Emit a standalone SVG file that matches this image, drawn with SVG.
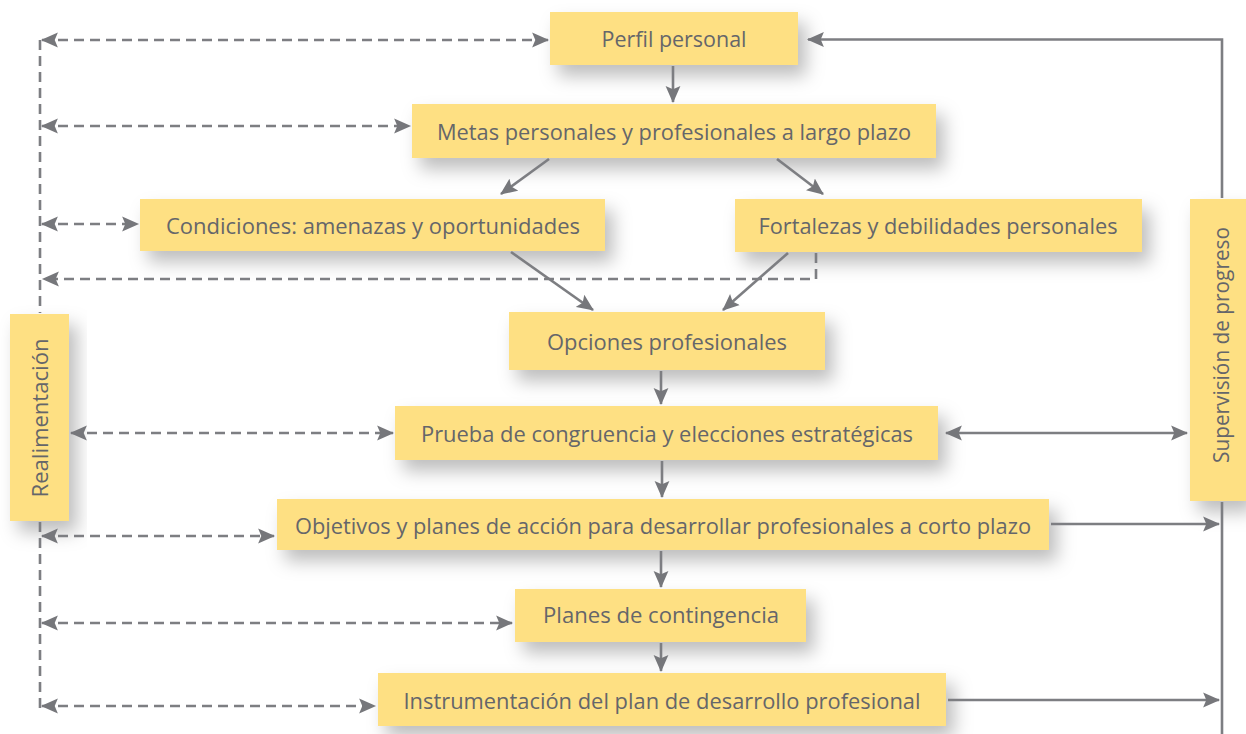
<svg xmlns="http://www.w3.org/2000/svg" width="1246" height="734" viewBox="0 0 1246 734">
<defs>
<filter id="sh" x="-20%" y="-50%" width="150%" height="250%">
<feDropShadow dx="8" dy="11" stdDeviation="9" flood-color="#000" flood-opacity="0.26"/>
</filter>
<marker id="ah" markerUnits="userSpaceOnUse" markerWidth="18" markerHeight="16" refX="15" refY="7" orient="auto-start-reverse" viewBox="0 0 17 14">
<path d="M0,0 L16,7 L0,14 L3,7 z" fill="#76777b"/>
</marker>
</defs>
<style>
.box{fill:#fee083;filter:url(#sh)}
.t{font-family:"Open Sans","Noto Sans",sans-serif;font-size:21px;fill:#65666a;text-anchor:middle}
.s{fill:none;stroke:#7d7e82;stroke-width:2.6}
.d{fill:none;stroke:#7d7e82;stroke-width:2.6;stroke-dasharray:10 6}
</style>
<rect width="1246" height="734" fill="#fff"/>
<g id="n-perfil"><rect class="box" x="550" y="12" width="248" height="53"/><text class="t" x="674" y="47" textLength="145" lengthAdjust="spacingAndGlyphs">Perfil personal</text></g>
<g id="n-metas"><rect class="box" x="412" y="104" width="524" height="54"/><text class="t" x="674" y="140" textLength="474" lengthAdjust="spacingAndGlyphs">Metas personales y profesionales a largo plazo</text></g>
<g id="n-condiciones"><rect class="box" x="140" y="199" width="465" height="52"/><text class="t" x="373" y="234" textLength="414" lengthAdjust="spacingAndGlyphs">Condiciones: amenazas y oportunidades</text></g>
<g id="n-fortalezas"><rect class="box" x="735" y="199" width="407" height="53"/><text class="t" x="938" y="234" textLength="359" lengthAdjust="spacingAndGlyphs">Fortalezas y debilidades personales</text></g>
<g id="n-opciones"><rect class="box" x="509" y="312" width="316" height="58"/><text class="t" x="667" y="350" textLength="240" lengthAdjust="spacingAndGlyphs">Opciones profesionales</text></g>
<g id="n-prueba"><rect class="box" x="395" y="406" width="543" height="54"/><text class="t" x="667" y="442" textLength="492" lengthAdjust="spacingAndGlyphs">Prueba de congruencia y elecciones estratégicas</text></g>
<g id="n-objetivos"><rect class="box" x="277" y="499" width="772" height="51"/><text class="t" x="663" y="534" textLength="736" lengthAdjust="spacingAndGlyphs">Objetivos y planes de acción para desarrollar profesionales a corto plazo</text></g>
<g id="n-planes"><rect class="box" x="515" y="589" width="291" height="53"/><text class="t" x="661" y="623" textLength="236" lengthAdjust="spacingAndGlyphs">Planes de contingencia</text></g>
<g id="n-instrumentacion"><rect class="box" x="378" y="673" width="568" height="53"/><text class="t" x="662" y="709" textLength="517" lengthAdjust="spacingAndGlyphs">Instrumentación del plan de desarrollo profesional</text></g>
<g id="n-realimentacion"><rect class="box" x="10" y="314" width="59" height="207"/><text class="t" transform="translate(48,418) rotate(-90)" x="0" y="0" textLength="159" lengthAdjust="spacingAndGlyphs">Realimentación</text></g>
<g id="n-supervision"><rect class="box" x="1190" y="199" width="56" height="302"/><text class="t" transform="translate(1229,345) rotate(-90)" x="0" y="0" textLength="236" lengthAdjust="spacingAndGlyphs">Supervisión de progreso</text></g>
<g id="connectors">
<path class="d" d="M40,40 V313"/>
<path class="d" d="M40,522 V708"/>
<path class="d" d="M42,40 H548" marker-start="url(#ah)" marker-end="url(#ah)"/>
<path class="d" d="M42,126 H410" marker-start="url(#ah)" marker-end="url(#ah)"/>
<path class="d" d="M42,224 H138" marker-start="url(#ah)" marker-end="url(#ah)"/>
<path class="d" d="M816,253 V279 H43" marker-end="url(#ah)"/>
<path class="d" d="M71,433 H393" marker-start="url(#ah)" marker-end="url(#ah)"/>
<path class="d" d="M42,536 H274" marker-start="url(#ah)" marker-end="url(#ah)"/>
<path class="d" d="M42,623 H512" marker-start="url(#ah)" marker-end="url(#ah)"/>
<path class="d" d="M42,706 H375" marker-start="url(#ah)" marker-end="url(#ah)"/>
<path class="s" d="M673,66 V102" marker-end="url(#ah)"/>
<path class="s" d="M549,159 L501,194" marker-end="url(#ah)"/>
<path class="s" d="M777,159 L823,194" marker-end="url(#ah)"/>
<path class="s" d="M511,252 L593,310" marker-end="url(#ah)"/>
<path class="s" d="M788,253 L723,310" marker-end="url(#ah)"/>
<path class="s" d="M661,371 V404" marker-end="url(#ah)"/>
<path class="s" d="M662,461 V497" marker-end="url(#ah)"/>
<path class="s" d="M661,551 V587" marker-end="url(#ah)"/>
<path class="s" d="M661,643 V671" marker-end="url(#ah)"/>
<path class="s" d="M946,433 H1187" marker-start="url(#ah)" marker-end="url(#ah)"/>
<path class="s" d="M1051,524 H1219" marker-end="url(#ah)"/>
<path class="s" d="M948,700 H1219" marker-end="url(#ah)"/>
<path class="s" d="M1222,734 V502"/>
<path class="s" d="M1222,198 V39.5 H808" marker-end="url(#ah)"/>
</g>
</svg>
